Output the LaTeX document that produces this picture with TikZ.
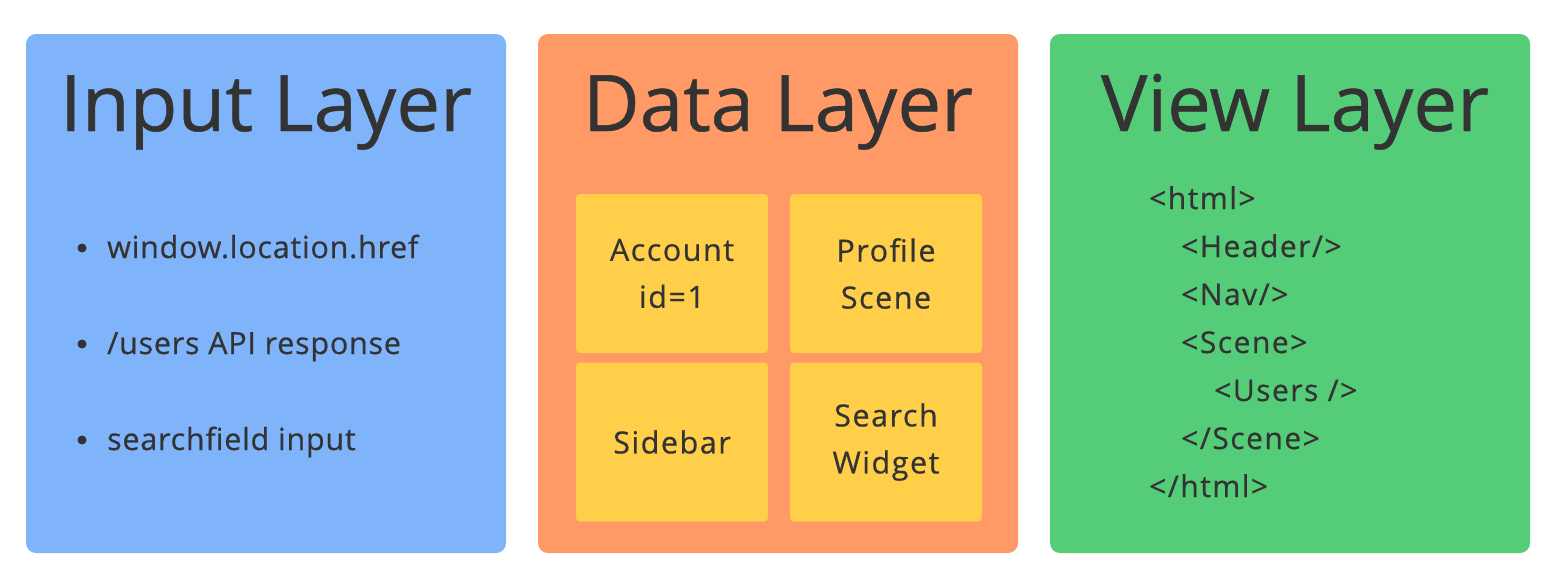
\documentclass[tikz,border=0pt]{standalone}
\usepackage{fontspec}
\setmainfont{Open Sans}
\newfontfamily\bodyf{Open Sans}[LetterSpace=5,FakeBold=0.5]
\newfontfamily\listf{Open Sans}[LetterSpace=2.5,FakeBold=0.5]
\newfontfamily\titlef{Open Sans}[FakeBold=0.6]
\definecolor{inkc}{HTML}{333333}
\definecolor{bluec}{HTML}{80B4FA}
\definecolor{orangec}{HTML}{FF9966}
\definecolor{greenc}{HTML}{55CC77}
\definecolor{yellowc}{HTML}{FFCF4A}
\begin{document}
\begin{tikzpicture}[x=1pt,y=-1pt,
  panel/.style={draw=none,rounded corners=10pt},
  title/.style={anchor=base,text=inkc,font=\titlef\fontsize{78}{96}\selectfont,inner sep=0pt},
  bodytext/.style={anchor=base west,text=inkc,font=\listf\fontsize{30.5}{36}\selectfont,inner sep=0pt},
  codetext/.style={anchor=base west,text=inkc,font=\bodyf\fontsize{30}{35}\selectfont,inner sep=0pt},
  card/.style={fill=yellowc,rounded corners=4pt,minimum width=192pt,minimum height=159pt,inner sep=0pt,align=center,text=inkc,font=\bodyf\fontsize{30.5}{47}\selectfont},
  dot/.style={circle,fill=inkc,minimum size=9pt,inner sep=0pt}]
\useasboundingbox (0,0) rectangle (1560,582);
\fill[white] (0,0) rectangle (1560,582);
% panels
\fill[bluec,panel] (26,34) rectangle (506,553);
\fill[orangec,panel] (538,34) rectangle (1018,553);
\fill[greenc,panel] (1050,34) rectangle (1530,553);
% titles
\node[title] (t1) at (266,131) {Input Layer};
\node[title] (t2) at (778,131) {Data Layer};
\node[title] (t3) at (1295,131) {View Layer};
% bullets
\node[dot] (d1) at (82,248) {};
\node[dot] (d2) at (82,344) {};
\node[dot] (d3) at (82,440) {};
\node[bodytext] (b1) at (107,258) {window.location.href};
\node[bodytext] (b2) at (107,354) {/users API response};
\node[bodytext] (b3) at (107,450) {searchfield input};
% cards
\node[card] (c1) at (672,273.5) {Account\\id=1};
\node[card] (c2) at (886,273.5) {Profile\\Scene};
\node[card] (c3) at (672,442) {Sidebar};
\node[card] (c4) at (886,442) {Search\\Widget};
% code
\node[codetext] (l1) at (1149,209) {<html>};
\node[codetext] (l2) at (1181,257) {<Header/>};
\node[codetext] (l3) at (1181,305) {<Nav/>};
\node[codetext] (l4) at (1181,353) {<Scene>};
\node[codetext] (l5) at (1214,401) {<Users />};
\node[codetext] (l6) at (1181,449) {</Scene>};
\node[codetext] (l7) at (1149,497) {</html>};
\end{tikzpicture}
\end{document}
